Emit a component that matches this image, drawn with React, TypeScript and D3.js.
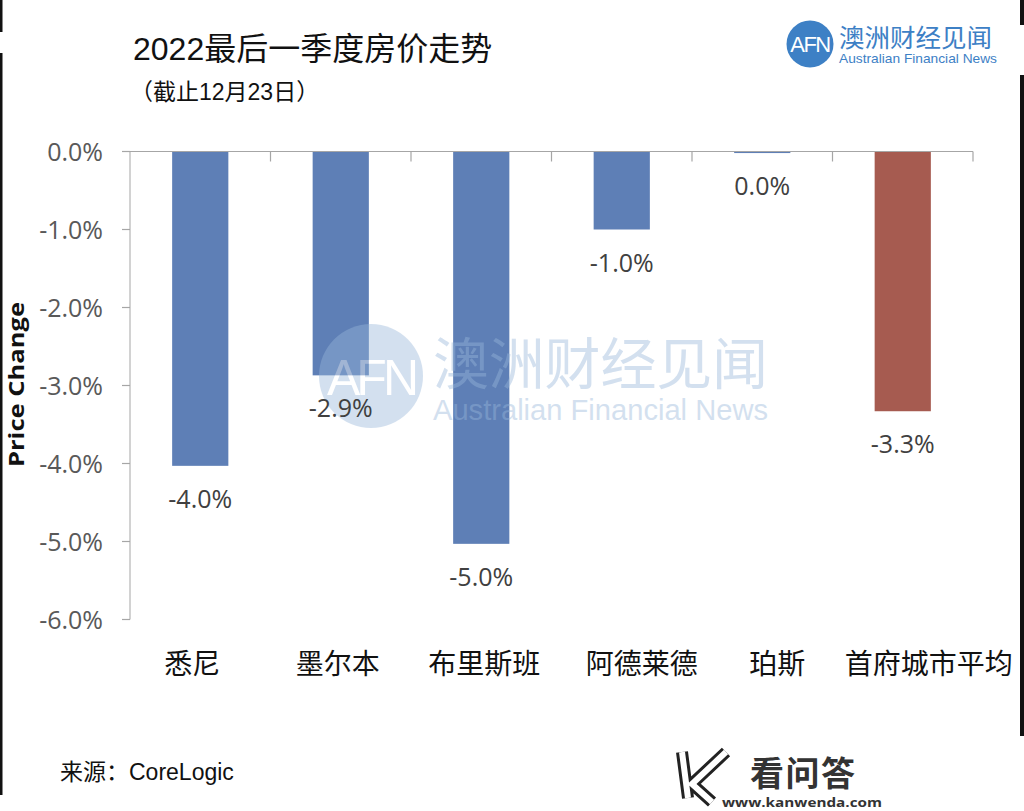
import React from 'react';
import * as d3 from 'd3';

const categories = ['悉尼', '墨尔本', '布里斯班', '阿德莱德', '珀斯', '首府城市平均'];
const values = [-4.03, -2.87, -5.03, -1.0, -0.02, -3.33];
const valueLabels = ['-4.0%', '-2.9%', '-5.0%', '-1.0%', '0.0%', '-3.3%'];
const barColors = ['#5e7fb6', '#5e7fb6', '#5e7fb6', '#5e7fb6', '#5e7fb6', '#a65b50'];
const yTicks = [0, -1, -2, -3, -4, -5, -6];
const yTickLabels = ['0.0%', '-1.0%', '-2.0%', '-3.0%', '-4.0%', '-5.0%', '-6.0%'];
const labelNudge = [-8, -3, 3, 20, 15, 26];

const W = 1024;
const H = 811;
const CJK = '"Liberation Sans", "Noto Sans CJK SC", sans-serif';
const NUM = '"Open Sans", sans-serif';

export default function App() {
  const x = d3.scaleBand<string>().domain(categories).range([130, 973]).paddingInner(0.6).paddingOuter(0.3);
  const band = d3.scaleBand<string>().domain(categories).range([130, 973]);
  const y = d3.scaleLinear().domain([0, -6]).range([151.5, 619.5]);
  const y0 = y(0);

  const boundaries = categories.map((c) => (band(c) as number) + band.bandwidth());

  return (
    <svg width={W} height={H} style={{ position: 'absolute', left: 0, top: 0, display: 'block', background: '#fff' }}>
      <rect x={0} y={0} width={W} height={H} fill="#fff" />
      {/* frame artifacts */}
      <rect x={0} y={0} width={2.5} height={32} fill="#111" />
      <rect x={0} y={53} width={2.5} height={742} fill="#111" />
      <rect x={1020} y={0} width={4} height={25} fill="#111" />
      <rect x={1020} y={75} width={4} height={661} fill="#111" />

      {/* title */}
      <text x={133} y={60} fontFamily={CJK} fontSize={32} fill="#111">2022最后一季度房价走势</text>
      <text x={130} y={100} fontFamily={CJK} fontSize={23} fill="#111">（截止12月23日）</text>

      {/* top-right logo */}
      <circle cx={810} cy={44} r={23.5} fill="#3d80c5" />
      <text x={810} y={52} textAnchor="middle" fontFamily={CJK} fontSize={22} fill="#fff" letterSpacing={-1.5}>AFN</text>
      <text x={839} y={47} fontFamily={CJK} fontSize={25.5} fill="#3d80c5" textLength={153}>澳洲财经见闻</text>
      <text x={839} y={63} fontFamily={CJK} fontSize={13} fill="#3d80c5" textLength={158} lengthAdjust="spacingAndGlyphs">Australian Financial News</text>

      {/* bars */}
      {categories.map((c, i) => (
        <rect key={c} x={x(c)} y={y0} width={x.bandwidth()} height={y(values[i]) - y0} fill={barColors[i]} />
      ))}

      {/* axes */}
      <line x1={130} x2={130} y1={y0} y2={y(-6)} stroke="#b4b4b4" strokeWidth={1.2} />
      {yTicks.map((t) => (
        <line key={t} x1={122} x2={130} y1={y(t)} y2={y(t)} stroke="#a6a6a6" strokeWidth={1.2} />
      ))}
      <line x1={130} x2={973} y1={y0} y2={y0} stroke="#a6a6a6" strokeWidth={1.2} />
      {boundaries.map((b, i) => (
        <line key={i} x1={b} x2={b} y1={y0} y2={y0 + 10} stroke="#a6a6a6" strokeWidth={1.2} />
      ))}
      {yTicks.map((t, i) => (
        <text key={t} x={103} y={y(t) + 9} textAnchor="end" fontFamily={NUM} fontSize={25} fill="#595959">{yTickLabels[i]}</text>
      ))}
      <text transform={`translate(24,${384.5}) rotate(-90)`} textAnchor="middle" fontFamily={NUM} fontWeight={700} fontSize={22} fill="#111" textLength={165} lengthAdjust="spacingAndGlyphs">Price Change</text>

      {/* centre watermark */}
      <g opacity={0.42}>
        <circle cx={371} cy={376} r={52} fill="#98b7da" />
        <text x={371} y={395} textAnchor="middle" fontFamily={CJK} fontSize={50} fill="#fff" letterSpacing={-4}>AFN</text>
        <text x={433} y={384} fontFamily={CJK} fontSize={56} fill="#98b7da" textLength={335}>澳洲财经见闻</text>
        <text x={433} y={420} fontFamily={CJK} fontSize={30} fill="#98b7da" textLength={335} lengthAdjust="spacingAndGlyphs">Australian Financial News</text>
      </g>

      {/* value labels */}
      {categories.map((c, i) => (
        <text key={c} x={(x(c) as number) + x.bandwidth() / 2} y={y(values[i]) + 42} textAnchor="middle" fontFamily={NUM} fontSize={25} fill="#404040">{valueLabels[i]}</text>
      ))}

      {/* category labels */}
      {categories.map((c, i) => (
        <text key={c} x={(band(c) as number) + band.bandwidth() / 2 + labelNudge[i]} y={674} textAnchor="middle" fontFamily={CJK} fontSize={28} fill="#111">{c}</text>
      ))}

      {/* source */}
      <text x={60} y={780} fontFamily={CJK} fontSize={23} fill="#111">来源：CoreLogic</text>

      {/* bottom watermark */}
      <g fill="none" strokeLinejoin="miter">
        <path d="M682,752 L688,798 M726,752 L692,784 L712,802" stroke="#222" strokeWidth={12} />
        <path d="M682,752 L688,798 M726,752 L692,784 L712,802" stroke="#fff" strokeWidth={6} />
      </g>
      <text x={750} y={786} fontFamily={CJK} fontWeight={700} fontSize={34} fill="#333" textLength={105}>看问答</text>
      <text x={722} y={807} fontFamily={NUM} fontWeight={700} fontSize={13} fill="#333" textLength={160} lengthAdjust="spacingAndGlyphs">www.kanwenda.com</text>
    </svg>
  );
}
